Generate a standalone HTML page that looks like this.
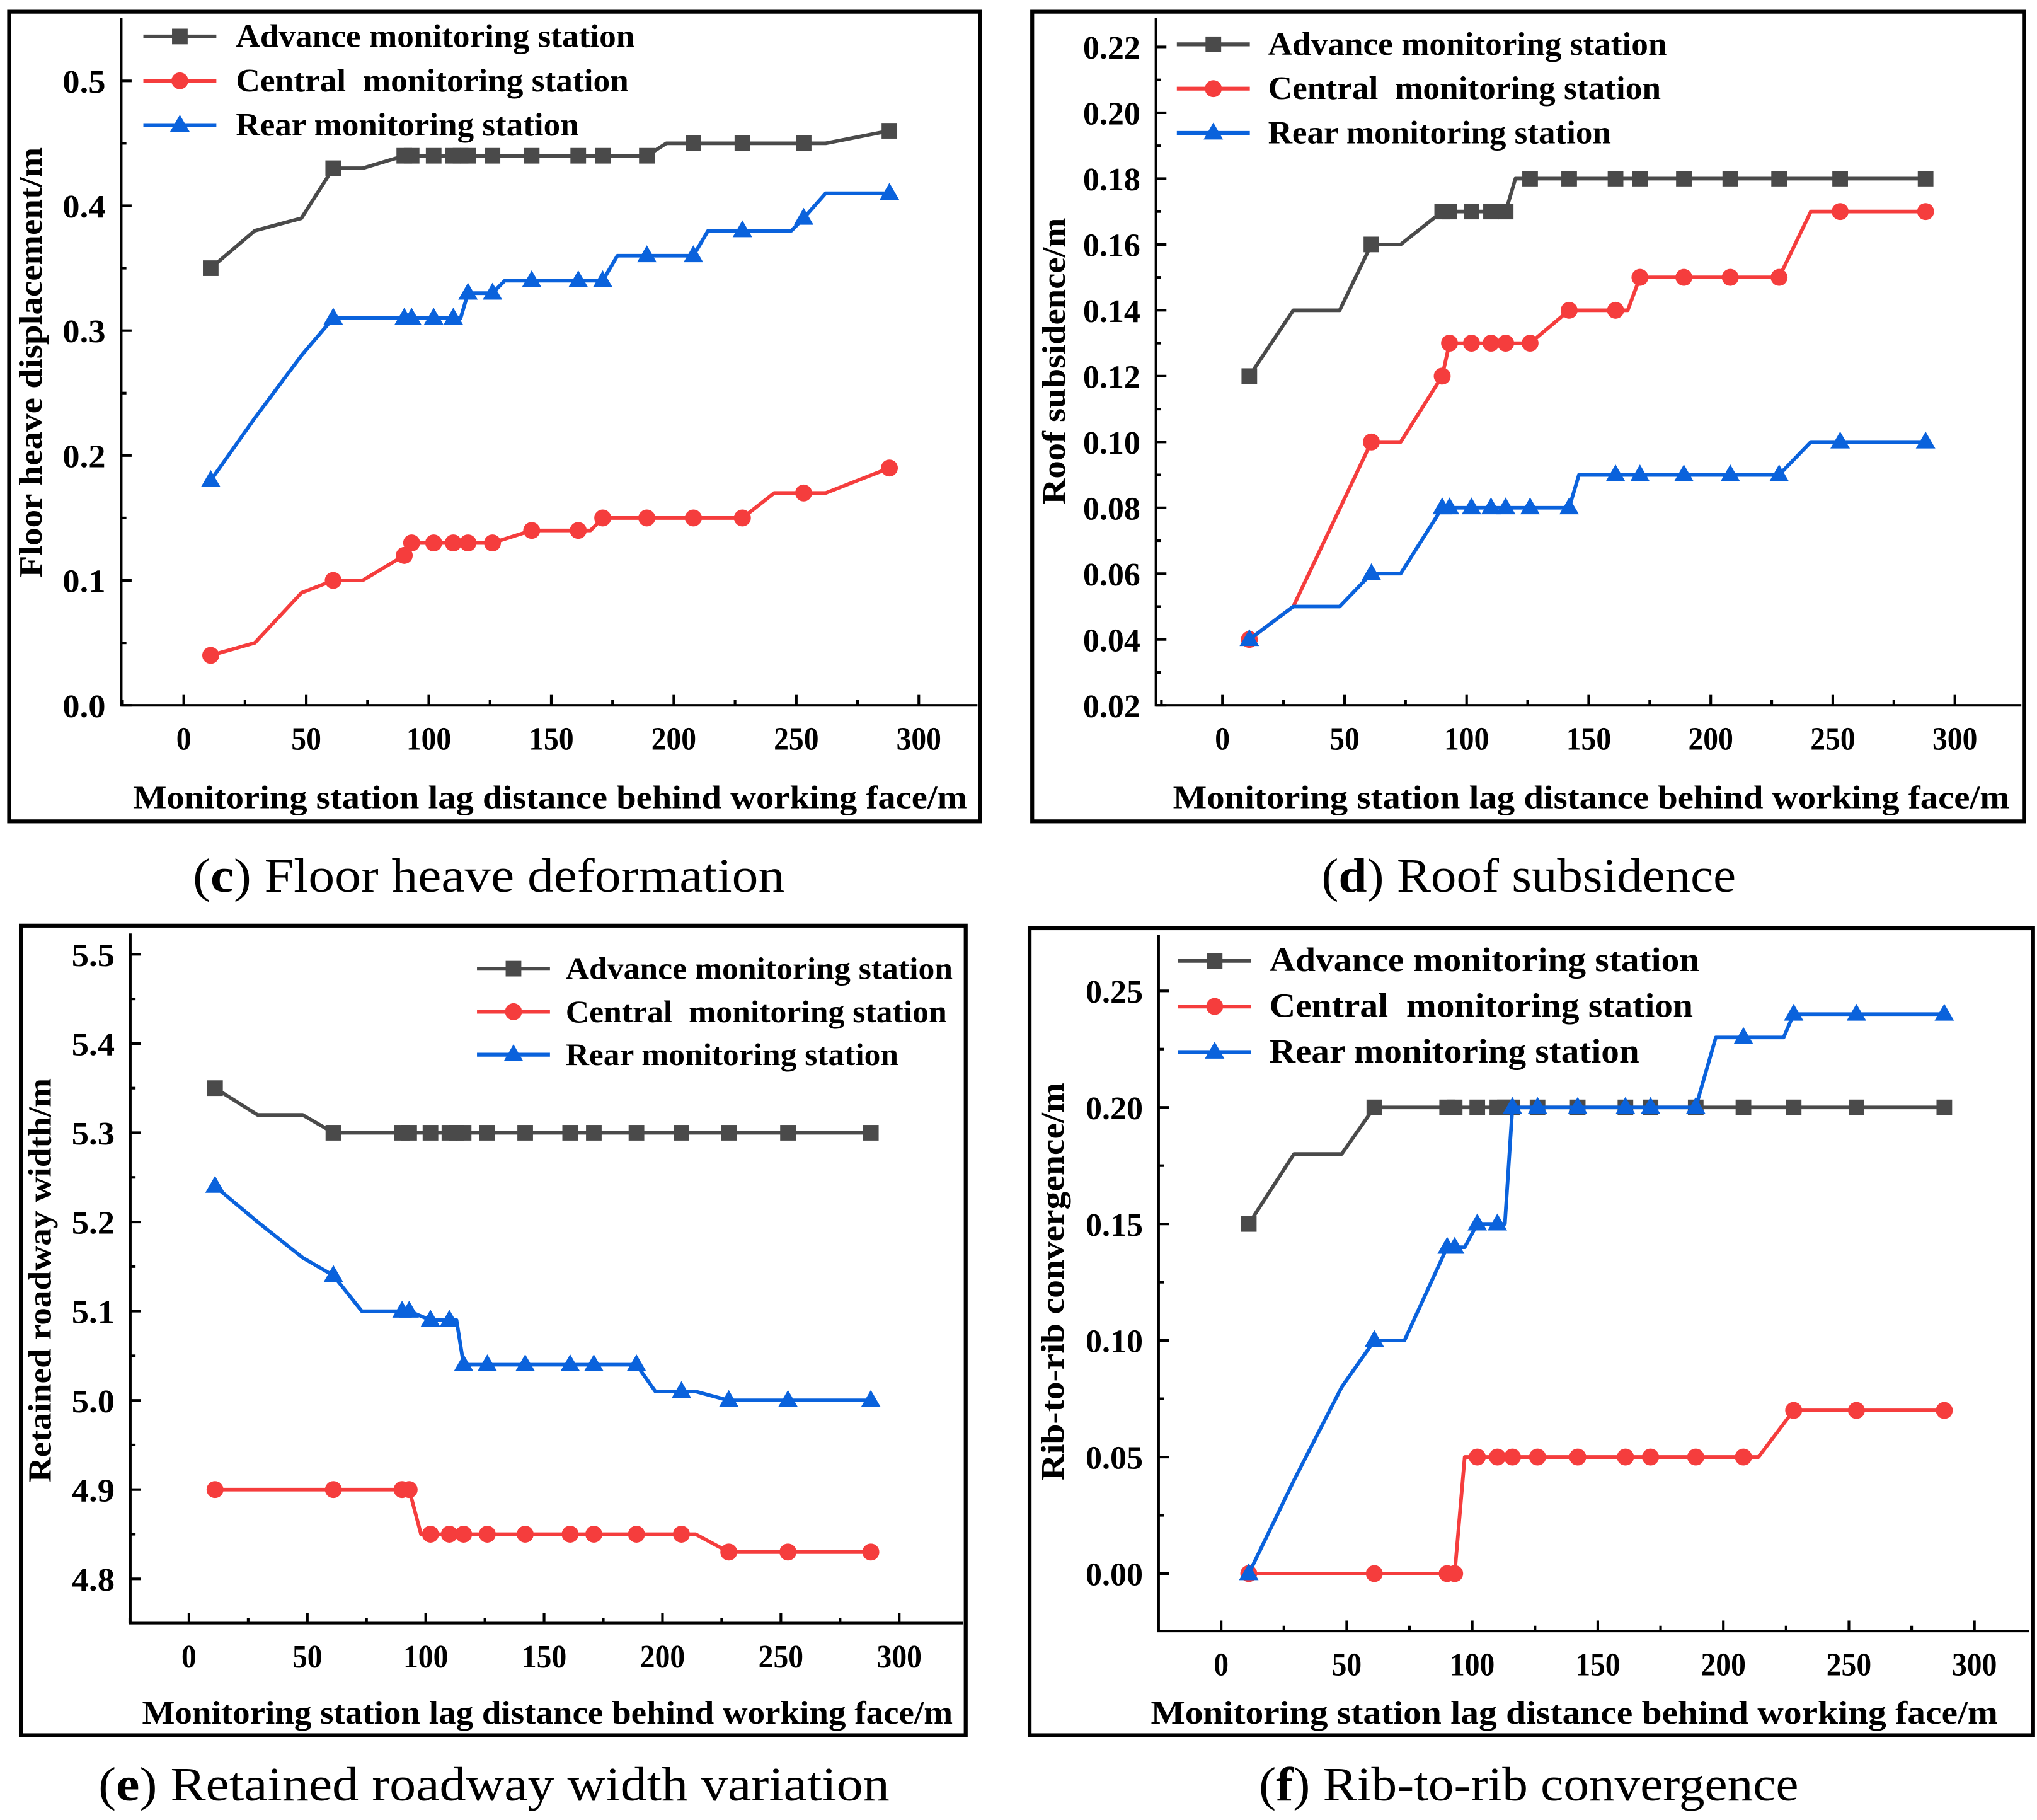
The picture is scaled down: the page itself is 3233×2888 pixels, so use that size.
<!DOCTYPE html>
<html><head><meta charset="utf-8"><title>Monitoring station charts</title>
<style>
html,body{margin:0;padding:0;background:#fff;}
svg{display:block;}
text{font-family:"Liberation Serif",serif;white-space:pre;}
</style></head>
<body>
<svg id="fig" xmlns="http://www.w3.org/2000/svg" width="3233" height="2888" viewBox="0 0 1563 1396" preserveAspectRatio="none"></svg>
<script>
// ---------- Panel C data: floor heave ----------
const cAdvX=[11,29,48,61,73,90,93,102,110,113,116,126,142,161,171,189,197,208,228,253,262,288];
const cAdvY=[.35,.38,.39,.43,.43,.44,.44,.44,.44,.44,.44,.44,.44,.44,.44,.44,.45,.45,.45,.45,.45,.46];
const cAdvM=[1,0,0,1,0,1,1,1,1,1,1,1,1,1,1,1,0,1,1,1,0,1];
const cCenX=[11,29,48,61,73,90,93,102,110,116,126,142,161,166,171,189,208,228,241,253,262,288];
const cCenY=[.04,.05,.09,.10,.10,.12,.13,.13,.13,.13,.13,.14,.14,.14,.15,.15,.15,.15,.17,.17,.17,.19];
const cCenM=[1,0,0,1,0,1,1,1,1,1,1,1,1,0,1,1,1,1,0,1,0,1];
const cRearX=[11,29,48,61,90,93,102,110,113,116,126,131,142,161,171,177,189,208,214,228,248,253,262,288];
const cRearY=[.18,.23,.28,.31,.31,.31,.31,.31,.31,.33,.33,.34,.34,.34,.34,.36,.36,.36,.38,.38,.38,.39,.41,.41];
const cRearM=[1,0,0,1,1,1,1,1,0,1,1,0,1,1,1,0,1,1,0,1,0,1,0,1];
const cYTicks=["0.0","0.1","0.2","0.3","0.4","0.5"];
// ---------- Panel D data: roof subsidence ----------
const dAdvX=[11,29,48,61,73,90,93,102,110,116,120,126,142,161,171,189,208,228,253,288];
const dAdvY=[.12,.14,.14,.16,.16,.17,.17,.17,.17,.17,.18,.18,.18,.18,.18,.18,.18,.18,.18,.18];
const dAdvM=[1,0,0,1,0,1,1,1,1,1,0,1,1,1,1,1,1,1,1,1];
const dCenX=[11,29,61,73,90,93,102,110,116,126,142,161,166,171,189,208,228,241,253,288];
const dCenY=[.04,.05,.10,.10,.12,.13,.13,.13,.13,.13,.14,.14,.14,.15,.15,.15,.15,.17,.17,.17];
const dCenM=[1,0,1,0,1,1,1,1,1,1,1,1,0,1,1,1,1,0,1,1];
const dRearX=[11,29,48,61,73,90,93,102,110,116,126,142,146,161,171,189,208,228,241,253,288];
const dRearY=[.04,.05,.05,.06,.06,.08,.08,.08,.08,.08,.08,.08,.09,.09,.09,.09,.09,.09,.10,.10,.10];
const dRearM=[1,0,0,1,0,1,1,1,1,1,1,1,0,1,1,1,1,1,0,1,1];
const dYTicks=["0.02","0.04","0.06","0.08","0.10","0.12","0.14","0.16","0.18","0.20","0.22"];
// ---------- Panel E data: roadway width ----------
const eAdvX=[11,29,48,61,90,93,102,110,113,116,126,142,161,171,189,208,228,253,288];
const eAdvY=[5.35,5.32,5.32,5.30,5.30,5.30,5.30,5.30,5.30,5.30,5.30,5.30,5.30,5.30,5.30,5.30,5.30,5.30,5.30];
const eAdvM=[1,0,0,1,1,1,1,1,1,1,1,1,1,1,1,1,1,1,1];
const eCenX=[11,61,90,93,98,102,110,116,126,142,161,171,189,208,214,228,253,288];
const eCenY=[4.90,4.90,4.90,4.90,4.85,4.85,4.85,4.85,4.85,4.85,4.85,4.85,4.85,4.85,4.85,4.83,4.83,4.83];
const eCenM=[1,1,1,1,0,1,1,1,1,1,1,1,1,1,0,1,1,1];
const eRearX=[11,29,48,61,73,90,93,102,110,113,116,126,142,161,171,189,197,208,214,228,253,288];
const eRearY=[5.24,5.20,5.16,5.14,5.10,5.10,5.10,5.09,5.09,5.09,5.04,5.04,5.04,5.04,5.04,5.04,5.01,5.01,5.01,5.00,5.00,5.00];
const eRearM=[1,0,0,1,0,1,1,1,1,0,1,1,1,1,1,1,0,1,0,1,1,1];
const eYTicks=["4.8","4.9","5.0","5.1","5.2","5.3","5.4","5.5"];
// ---------- Panel F data: rib-to-rib ----------
const fAdvX=[11,29,48,61,90,93,102,110,113,116,126,142,161,171,189,208,228,253,288];
const fAdvY=[.15,.18,.18,.20,.20,.20,.20,.20,.20,.20,.20,.20,.20,.20,.20,.20,.20,.20,.20];
const fAdvM=[1,0,0,1,1,1,1,1,1,1,1,1,1,1,1,1,1,1,1];
const fCenX=[11,61,90,93,97,102,110,116,126,142,161,171,189,208,214,228,253,288];
const fCenY=[0,0,0,0,.05,.05,.05,.05,.05,.05,.05,.05,.05,.05,.05,.07,.07,.07];
const fCenM=[1,1,1,1,0,1,1,1,1,1,1,1,1,1,0,1,1,1];
const fRearX=[11,29,48,61,73,90,93,97,102,110,113,116,126,142,161,171,189,197,208,224,228,253,288];
const fRearY=[0,.04,.08,.10,.10,.14,.14,.14,.15,.15,.15,.20,.20,.20,.20,.20,.20,.23,.23,.23,.24,.24,.24];
const fRearM=[1,0,0,1,0,1,1,0,1,1,0,1,1,1,1,1,1,0,1,0,1,1,1];
const fYTicks=["0.00","0.05","0.10","0.15","0.20","0.25"];
const xTicks=["0","50","100","150","200","250","300"];
const legendLabels=["Advance monitoring station","Central  monitoring station","Rear monitoring station"];

const NS="http://www.w3.org/2000/svg";
const svg=document.getElementById('fig');
function mk(tag,attrs,parent){const e=document.createElementNS(NS,tag);for(const k in attrs)e.setAttribute(k,attrs[k]);(parent||svg).appendChild(e);return e;}
const COLORS=["#4a4a4a","#f53d3d","#0a62dc"];
const KINDS=["square","circle","tri"];

function marker(g,kind,cx,cy,color){
  let m;
  if(kind==="square"){m=mk('rect',{x:cx-6,y:cy-6,width:12,height:12,fill:color},g);}
  else if(kind==="circle"){m=mk('circle',{cx:cx,cy:cy,r:6.5,fill:color},g);}
  else {m=mk('polygon',{points:`${cx},${cy-8} ${cx+7.5},${cy+5} ${cx-7.5},${cy+5}`,fill:color},g);}
  
  
}

function panel(p){
  const g=mk('g',{});
  
  
  const fr=mk('rect',{x:p.frame[0],y:p.frame[1],width:p.frame[2]-p.frame[0],height:p.frame[3]-p.frame[1],fill:'none',stroke:'#000','stroke-width':3},g);
  
  
  const sx=v=>p.x0+(v-p.xMin)*(p.x1-p.x0)/(p.xMax-p.xMin);
  const sy=v=>p.y0+(v-p.yMin)*(p.y1-p.y0)/(p.yMax-p.yMin);
  const ax=mk('path',{d:`M${p.axL},${p.axT} L${p.axL},${p.axB} L${p.axR},${p.axB}`,fill:'none',stroke:'#000','stroke-width':2},g);
  
  
  xTicks.forEach((t,i)=>{
    const v=Number(t), x=sx(v);
    mk('line',{x1:x,y1:p.axB,x2:x,y2:p.axB-8,stroke:'#000','stroke-width':2},g);
    if(i<xTicks.length-1){const xm=sx(v+25);mk('line',{x1:xm,y1:p.axB,x2:xm,y2:p.axB-4,stroke:'#000','stroke-width':2},g);}
    const tx=mk('text',{x:x,y:p.axB+34,'text-anchor':'middle','font-size':25,'font-weight':'bold',textLength:t.length*11.5,lengthAdjust:'spacingAndGlyphs'},g);
    tx.textContent=t;
    
    
  });
  mk('line',{x1:sx(-25),y1:p.axB,x2:sx(-25),y2:p.axB-4,stroke:'#000','stroke-width':2},g);
  p.yTicks.forEach((t,i)=>{
    const v=Number(t), y=sy(v);
    mk('line',{x1:p.axL,y1:y,x2:p.axL+8,y2:y,stroke:'#000','stroke-width':2},g);
    const step=(p.yMax-p.yMin)/(p.yTicks.length-1);
    const ym=sy(v+step/2);
    if(ym>p.axT+2) mk('line',{x1:p.axL,y1:ym,x2:p.axL+4,y2:ym,stroke:'#000','stroke-width':2},g);
    const ty=mk('text',{x:p.axL-12,y:y+9,'text-anchor':'end','font-size':25,'font-weight':'bold',textLength:t.length*11,lengthAdjust:'spacingAndGlyphs'},g);
    ty.textContent=t;
    
    
  });
  const xt=mk('text',{x:p.xTitle[0],y:p.xTitle[1],'text-anchor':'middle','font-size':25,'font-weight':'bold',textLength:p.xTitle[2],lengthAdjust:'spacingAndGlyphs'},g);
  xt.textContent="Monitoring station lag distance behind working face/m";
  
  
  const yt=mk('text',{x:0,y:0,'text-anchor':'middle','font-size':25,'font-weight':'bold',textLength:p.yTitle[2],lengthAdjust:'spacingAndGlyphs',transform:`translate(${p.yTitle[0]},${p.yTitle[1]}) rotate(-90)`},g);
  yt.textContent=p.yLabel;
  
  
  p.series.forEach((s,k)=>{
    const sg=mk('g',{},g);
    
    
    const pts=s[0].map((xv,i)=>sx(xv)+','+sy(s[1][i])).join(' ');
    const pl=mk('polyline',{points:pts,fill:'none',stroke:COLORS[k],'stroke-width':2.8,'stroke-linejoin':'round'},sg);
    
    
    s[0].forEach((xv,i)=>{if(s[2][i])marker(sg,KINDS[k],sx(xv),sy(s[1][i]),COLORS[k]);});
  });
  const lg=mk('g',{},g);
  
  
  legendLabels.forEach((lab,k)=>{
    const y=p.leg[1]+k*p.leg[3];
    mk('line',{x1:p.leg[0],y1:y,x2:p.leg[0]+56,y2:y,stroke:COLORS[k],'stroke-width':3},lg);
    marker(lg,KINDS[k],p.leg[0]+28,y,COLORS[k]);
    const t=mk('text',{x:p.leg[2],y:y+8,'font-size':p.leg[4],'font-weight':'bold',textLength:p.leg[5]*(k===0?1:k===1?0.985:0.86),lengthAdjust:'spacingAndGlyphs'},lg);
    t.textContent=lab;
    
    
  });
  const cap=mk('text',{x:p.cap[0],y:p.cap[1],'text-anchor':'middle','font-size':37,textLength:p.cap[2],lengthAdjust:'spacingAndGlyphs'},g);
  cap.innerHTML=`(<tspan font-weight="bold">${p.letter}</tspan>) ${p.caption}`;
  
  
}

panel({name:'panel-c-floor-heave',frame:[7,9,752,630],axL:93,axT:14,axB:541,axR:750,
  xMin:0,xMax:300,x0:141,x1:705,yMin:0,yMax:0.5,y0:541,y1:62,yTicks:cYTicks,
  xTitle:[422,620,640],yTitle:[32,278,330],yLabel:"Floor heave displacement/m",
  series:[[cAdvX,cAdvY,cAdvM],[cCenX,cCenY,cCenM],[cRearX,cRearY,cRearM]],
  leg:[110,28,181,34,25,306],cap:[375,684,454],letter:'c',caption:'Floor heave deformation'});
panel({name:'panel-d-roof-subsidence',frame:[792,9,1553,630],axL:887,axT:14,axB:541,axR:1551,
  xMin:0,xMax:300,x0:938,x1:1500,yMin:0.02,yMax:0.22,y0:541,y1:36,yTicks:dYTicks,
  xTitle:[1221,620,642],yTitle:[817,277,220],yLabel:"Roof subsidence/m",
  series:[[dAdvX,dAdvY,dAdvM],[dCenX,dCenY,dCenM],[dRearX,dRearY,dRearM]],
  leg:[903,34,973,34,25,306],cap:[1173,684,318],letter:'d',caption:'Roof subsidence'});
panel({name:'panel-e-roadway-width',frame:[16,710,741,1331],axL:100,axT:716,axB:1245,axR:739,
  xMin:0,xMax:300,x0:145,x1:690,yMin:4.8,yMax:5.5,y0:1211,y1:732,yTicks:eYTicks,
  xTitle:[420,1322,622],yTitle:[39,982,310],yLabel:"Retained roadway width/m",
  series:[[eAdvX,eAdvY,eAdvM],[eCenX,eCenY,eCenM],[eRearX,eRearY,eRearM]],
  leg:[366,743,434,33,24,297],cap:[379,1381,607],letter:'e',caption:'Retained roadway width variation'});
panel({name:'panel-f-rib-convergence',frame:[790,712,1560,1331],axL:889,axT:717,axB:1251,axR:1557,
  xMin:0,xMax:300,x0:937,x1:1515,yMin:0,yMax:0.25,y0:1207,y1:760,yTicks:fYTicks,
  xTitle:[1208,1322,650],yTitle:[816,983,305],yLabel:"Rib-to-rib convergence/m",
  series:[[fAdvX,fAdvY,fAdvM],[fCenX,fCenY,fCenM],[fRearX,fRearY,fRearM]],
  leg:[904,737,974,35,26,330],cap:[1173,1381,414],letter:'f',caption:'Rib-to-rib convergence'});
</script>
</body></html>
